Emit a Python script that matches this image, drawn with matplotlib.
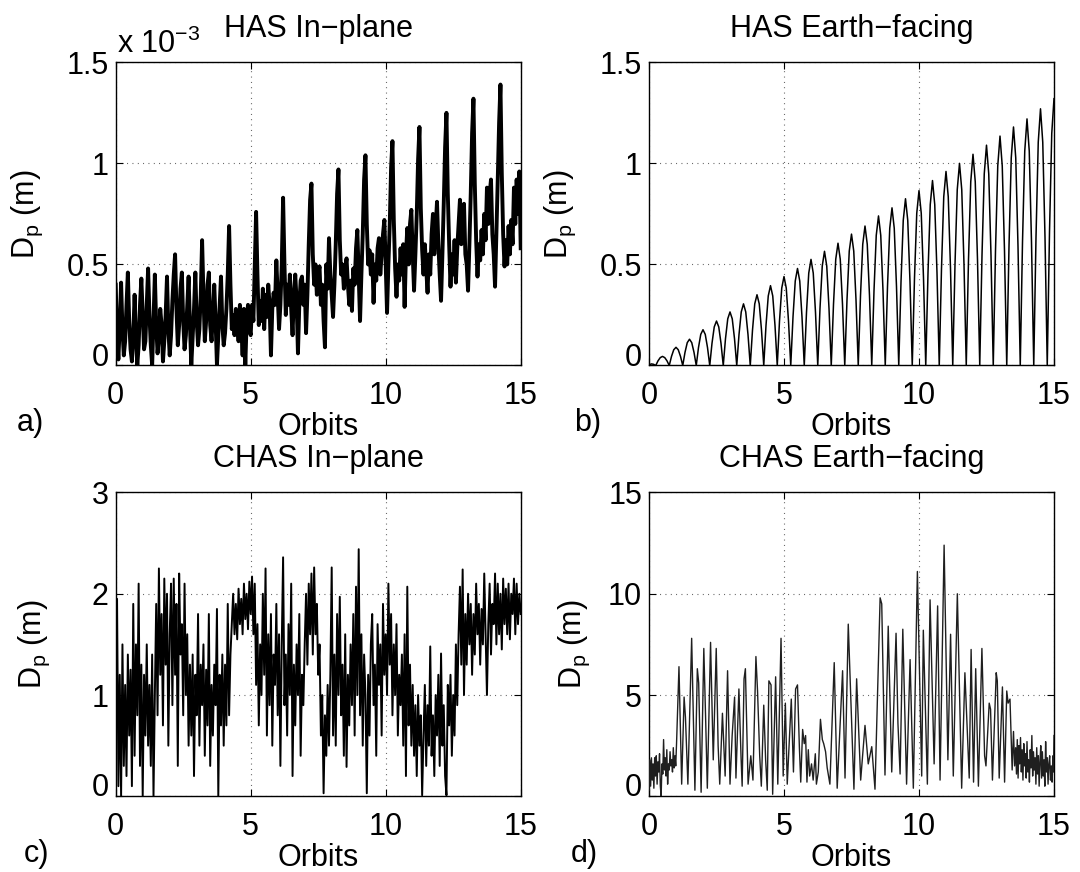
import numpy as np
import matplotlib
matplotlib.use("Agg")
import matplotlib.pyplot as plt

plt.rcParams['font.family'] = ['Liberation Sans', 'DejaVu Sans']
plt.rcParams['mathtext.default'] = 'regular'

# ---------------------------------------------------------------- data
ORBIT_STEP = 0.05            # sampling of the in-plane series (orbits)
EARTH_STEP = 1.0 / 12.0      # sampling of the HAS Earth-facing series

# HAS in-plane pointing error, units of 1e-3 m
has_inplane = [
    0.40, 0.15, 0.03, 0.20, 0.41, 0.18, 0.05, 0.12, 0.30, 0.46, 0.22, 0.08, 0.02, 0.15, 0.35, 0.14, 0.00, 0.10, 0.30, 0.43,
    0.25, 0.08, 0.12, 0.30, 0.48, 0.25, 0.10, 0.00, 0.22, 0.45, 0.20, 0.06, 0.14, 0.28, 0.20, 0.02, 0.12, 0.25, 0.44, 0.18,
    0.05, 0.15, 0.32, 0.45, 0.55, 0.28, 0.10, 0.20, 0.38, 0.46, 0.22, 0.08, 0.15, 0.30, 0.44, 0.20, 0.00, 0.14, 0.28, 0.46,
    0.22, 0.10, 0.18, 0.35, 0.62, 0.35, 0.12, 0.22, 0.40, 0.46, 0.20, 0.12, 0.25, 0.40, 0.22, 0.00, 0.15, 0.30, 0.44, 0.20,
    0.10, 0.16, 0.28, 0.45, 0.69, 0.40, 0.18, 0.25, 0.15, 0.28, 0.22, 0.12, 0.30, 0.20, 0.05, 0.28, 0.00, 0.22, 0.30, 0.18,
    0.15, 0.30, 0.22, 0.48, 0.76, 0.45, 0.20, 0.32, 0.22, 0.38, 0.18, 0.35, 0.24, 0.40, 0.30, 0.05, 0.28, 0.36, 0.30, 0.52,
    0.35, 0.18, 0.30, 0.50, 0.83, 0.50, 0.25, 0.40, 0.30, 0.45, 0.28, 0.15, 0.35, 0.45, 0.32, 0.06, 0.30, 0.42, 0.44, 0.30,
    0.40, 0.16, 0.35, 0.60, 0.82, 0.90, 0.55, 0.40, 0.50, 0.35, 0.45, 0.49, 0.30, 0.40, 0.22, 0.09, 0.50, 0.38, 0.63, 0.45,
    0.35, 0.24, 0.40, 0.60, 0.85, 0.97, 0.62, 0.45, 0.50, 0.38, 0.48, 0.53, 0.40, 0.30, 0.42, 0.27, 0.48, 0.40, 0.58, 0.67,
    0.45, 0.22, 0.45, 0.65, 0.92, 1.04, 0.70, 0.50, 0.57, 0.45, 0.55, 0.31, 0.50, 0.42, 0.58, 0.63, 0.45, 0.55, 0.65, 0.72,
    0.50, 0.26, 0.50, 0.70, 0.98, 1.11, 0.72, 0.48, 0.34, 0.50, 0.42, 0.58, 0.45, 0.60, 0.29, 0.55, 0.68, 0.50, 0.70, 0.77,
    0.55, 0.37, 0.55, 0.75, 1.02, 1.18, 0.78, 0.57, 0.45, 0.60, 0.48, 0.36, 0.55, 0.45, 0.65, 0.75, 0.55, 0.68, 0.81, 0.60,
    0.45, 0.32, 0.55, 0.80, 1.08, 1.25, 0.85, 0.60, 0.39, 0.55, 0.45, 0.62, 0.41, 0.58, 0.70, 0.82, 0.60, 0.72, 0.80, 0.55,
    0.50, 0.37, 0.60, 0.85, 1.15, 1.32, 0.90, 0.62, 0.44, 0.60, 0.52, 0.67, 0.55, 0.75, 0.62, 0.88, 0.70, 0.85, 0.92, 0.65,
    0.55, 0.39, 0.65, 0.92, 1.20, 1.39, 0.95, 0.65, 0.49, 0.62, 0.50, 0.69, 0.55, 0.72, 0.60, 0.88, 0.70, 0.92, 0.75, 0.96,
    0.58,
]

# HAS Earth-facing pointing error (m), one arch every half orbit
has_earth = [
    0.000, 0.008, 0.006,
    0.000, 0.023, 0.039, 0.045, 0.039, 0.023,
    0.000, 0.045, 0.078, 0.090, 0.078, 0.045,
    0.000, 0.065, 0.113, 0.130, 0.113, 0.065,
    0.000, 0.089, 0.154, 0.177, 0.154, 0.089,
    0.000, 0.110, 0.191, 0.220, 0.191, 0.110,
    0.000, 0.133, 0.231, 0.265, 0.231, 0.133,
    0.000, 0.153, 0.265, 0.305, 0.265, 0.153,
    0.000, 0.175, 0.305, 0.350, 0.305, 0.175,
    0.000, 0.198, 0.344, 0.395, 0.344, 0.198,
    0.000, 0.220, 0.383, 0.440, 0.383, 0.220,
    0.000, 0.240, 0.418, 0.480, 0.418, 0.240,
    0.000, 0.263, 0.457, 0.525, 0.457, 0.263,
    0.000, 0.283, 0.492, 0.565, 0.492, 0.283,
    0.000, 0.303, 0.526, 0.605, 0.526, 0.303,
    0.000, 0.325, 0.566, 0.650, 0.566, 0.325,
    0.000, 0.345, 0.600, 0.690, 0.600, 0.345,
    0.000, 0.370, 0.644, 0.740, 0.644, 0.370,
    0.000, 0.390, 0.679, 0.780, 0.679, 0.390,
    0.000, 0.413, 0.718, 0.825, 0.718, 0.413,
    0.000, 0.433, 0.753, 0.865, 0.753, 0.433,
    0.000, 0.458, 0.796, 0.915, 0.796, 0.458,
    0.000, 0.480, 0.835, 0.960, 0.835, 0.480,
    0.000, 0.500, 0.870, 1.000, 0.870, 0.500,
    0.000, 0.523, 0.909, 1.045, 0.909, 0.523,
    0.000, 0.545, 0.948, 1.090, 0.948, 0.545,
    0.000, 0.568, 0.987, 1.135, 0.987, 0.568,
    0.000, 0.590, 1.027, 1.180, 1.027, 0.590,
    0.000, 0.610, 1.061, 1.220, 1.061, 0.610,
    0.000, 0.635, 1.105, 1.270, 1.105, 0.635,
    0.000, 0.660, 1.148, 1.320,
]

# CHAS in-plane pointing error (m)
chas_inplane = [
    0.50, 1.95, 0.10, 1.20, 0.00, 1.50, 0.30, 1.10, 0.20, 1.40, 0.60, 1.25, 0.10, 1.90, 0.40, 1.50, 0.80, 2.10, 0.30, 1.30,
    0.00, 1.20, 0.60, 1.50, 0.50, 1.10, 0.30, 1.40, 0.00, 1.00, 1.90, 0.80, 2.25, 1.20, 1.80, 0.70, 2.15, 1.30, 2.00, 0.50,
    1.60, 2.10, 0.90, 2.15, 1.20, 1.90, 0.30, 2.20, 1.40, 1.70, 0.80, 2.10, 1.00, 1.60, 0.50, 1.30, 0.60, 1.40, 0.20, 1.20,
    0.80, 1.80, 0.50, 1.30, 0.90, 1.50, 0.40, 1.25, 0.70, 1.80, 0.30, 1.10, 0.60, 1.30, 0.90, 1.85, 0.00, 1.20, 0.70, 1.40,
    0.50, 1.30, 0.70, 1.90, 0.80, 1.40, 1.70, 2.00, 1.60, 1.90, 1.55, 2.05, 1.70, 1.95, 1.60, 2.10, 1.75, 2.00, 1.65, 2.12,
    1.80, 2.17, 1.60, 2.10, 1.10, 1.70, 0.70, 1.50, 1.00, 2.00, 1.20, 2.25, 0.60, 1.60, 0.90, 1.80, 0.50, 1.40, 1.10, 1.90,
    0.80, 1.60, 0.30, 1.50, 2.36, 0.90, 1.40, 0.60, 1.70, 1.00, 2.10, 0.20, 1.30, 0.70, 1.50, 1.00, 1.80, 0.40, 1.20, 0.90,
    1.50, 2.00, 1.30, 2.10, 1.60, 2.20, 1.40, 2.26, 1.60, 1.90, 1.20, 1.50, 0.60, 1.00, 0.03, 0.80, 0.40, 1.10, 0.50, 1.20,
    2.26, 0.60, 1.40, 0.50, 1.80, 1.00, 1.97, 0.80, 1.30, 0.40, 1.60, 0.29, 1.20, 0.70, 1.50, 0.90, 1.80, 0.60, 2.07, 1.00,
    2.44, 0.80, 1.60, 0.50, 1.40, 1.00, 0.03, 1.20, 0.60, 1.50, 1.80, 0.90, 1.30, 0.40, 1.70, 1.10, 1.50, 0.60, 1.90, 1.20,
    1.60, 1.00, 2.10, 1.30, 1.80, 0.80, 1.50, 1.00, 1.70, 0.60, 1.20, 0.90, 1.40, 0.50, 1.60, 0.20, 2.07, 0.70, 1.30, 0.50,
    1.10, 0.40, 0.90, 0.20, 1.00, 0.50, 0.80, 0.01, 0.60, 1.10, 0.30, 0.90, 0.50, 1.48, 0.40, 0.80, 0.20, 1.00, 0.60, 1.20,
    0.30, 1.41, 0.50, 0.90, 0.20, 0.01, 1.10, 0.70, 1.20, 0.40, 1.00, 0.60, 1.50, 0.90, 1.60, 2.07, 1.30, 2.24, 1.00, 1.80,
    1.30, 2.00, 1.50, 1.90, 1.20, 1.80, 1.40, 2.10, 1.60, 1.90, 1.30, 1.85, 1.50, 2.20, 1.60, 1.00, 1.70, 2.10, 1.40, 1.90,
    1.70, 2.20, 1.50, 2.10, 1.60, 2.00, 1.45, 2.15, 1.70, 2.05, 1.60, 2.10, 1.55, 2.00, 1.80, 2.15, 1.60, 2.10, 1.70, 2.00,
    1.80,
]

# CHAS Earth-facing pointing error (m): orbit positions and values
chas_earth_orbit = [
    0.00, 0.03, 0.06, 0.09, 0.12, 0.15, 0.18, 0.21, 0.24, 0.27, 0.30, 0.33, 0.36, 0.39, 0.42, 0.45, 0.48, 0.51,
    0.54, 0.57, 0.60, 0.63, 0.66, 0.69, 0.72, 0.75, 0.78, 0.81, 0.84, 0.87, 0.90, 0.93, 0.96, 0.99,
    1.02, 1.11, 1.21, 1.30, 1.35, 1.44, 1.58, 1.70, 1.79, 1.84, 1.93, 2.03, 2.10, 2.16, 2.28, 2.38,
    2.49, 2.56, 2.62, 2.72, 2.78, 2.82, 2.91, 3.00, 3.08, 3.17, 3.22, 3.33, 3.41, 3.45, 3.52, 3.57,
    3.67, 3.77, 3.85, 3.96, 4.02, 4.10, 4.16, 4.25, 4.32, 4.38, 4.44, 4.52, 4.58, 4.69, 4.77, 4.89,
    4.97, 5.05, 5.12, 5.27, 5.35, 5.43, 5.50, 5.57, 5.62, 5.69, 5.75, 5.80, 5.85, 5.90, 5.95, 6.02,
    6.08, 6.16, 6.20, 6.27, 6.35, 6.42, 6.47, 6.54, 6.60, 6.70, 6.86, 6.97, 7.17, 7.26, 7.38, 7.59,
    7.69, 7.84, 8.00, 8.12, 8.25, 8.37, 8.56, 8.62, 8.74, 8.86, 8.99, 9.15, 9.22, 9.30, 9.40, 9.54,
    9.67, 9.79, 9.94, 10.10, 10.16, 10.31, 10.41, 10.56, 10.69, 10.78, 10.93, 11.07, 11.17, 11.27,
    11.42, 11.58, 11.70, 11.86, 11.93, 12.02, 12.10, 12.20, 12.33, 12.43, 12.48, 12.60, 12.65, 12.72,
    12.86, 12.90, 12.97, 13.09, 13.17, 13.25, 13.30, 13.37, 13.45, 13.50, 13.54,
    13.58, 13.61, 13.64, 13.67, 13.70, 13.73, 13.76, 13.79, 13.82, 13.85, 13.88, 13.91, 13.94, 13.97,
    14.00, 14.03, 14.06, 14.09, 14.12, 14.15, 14.18, 14.21, 14.24, 14.27, 14.30, 14.33, 14.36, 14.39,
    14.42, 14.45, 14.48, 14.51, 14.54, 14.57, 14.60, 14.63, 14.66, 14.69, 14.72, 14.75, 14.78, 14.81,
    14.84, 14.87, 14.90, 14.93, 14.96, 14.98, 15.00,
]
chas_earth = [
    0.3, 1.8, 0.5, 1.9, 0.8, 1.6, 0.4, 1.9, 1.0, 2.0, 0.6, 1.7, 1.2, 2.1, 0.5, 0.0, 1.6, 1.1,
    2.8, 1.3, 1.9, 1.0, 2.3, 0.6, 1.6, 1.3, 2.2, 1.5, 1.8, 1.2, 2.4, 1.4, 2.0, 1.5,
    2.6, 6.4, 0.6, 4.9, 3.9, 0.6, 7.8, 0.3, 6.3, 5.6, 0.2, 7.3, 3.7, 0.4, 7.6, 1.8,
    7.3, 2.5, 0.6, 4.1, 2.3, 1.0, 6.2, 0.6, 3.0, 4.9, 0.9, 5.3, 1.9, 0.5, 5.8, 6.3,
    0.6, 2.0, 0.8, 6.9, 5.2, 2.0, 0.5, 4.5, 1.8, 0.3, 5.7, 5.5, 0.1, 5.9, 0.6, 7.8,
    1.0, 4.6, 0.6, 4.8, 1.2, 5.3, 5.5, 2.4, 0.7, 3.3, 2.6, 3.0, 0.7, 2.3, 1.0, 1.6,
    0.8, 2.1, 0.6, 1.2, 3.8, 2.8, 2.6, 2.2, 1.4, 0.6, 6.6, 0.4, 6.2, 0.9, 8.5, 0.35,
    5.8, 0.8, 3.5, 1.6, 2.45, 0.35, 9.8, 9.5, 1.05, 8.4, 1.2, 8.05, 3.6, 1.1, 8.25, 0.6,
    6.75, 0.4, 11.1, 1.0, 8.2, 0.6, 9.7, 1.6, 9.4, 0.8, 12.4, 1.8, 8.0, 1.0,
    10.0, 0.4, 6.1, 0.9, 7.25, 0.7, 6.3, 0.5, 7.3, 2.0, 1.5, 4.6, 4.3, 0.8,
    6.1, 5.7, 0.9, 5.4, 0.7, 5.2, 4.6, 4.8, 1.3, 3.2, 1.5,
    2.4, 1.1, 2.8, 0.9, 2.5, 1.6, 2.9, 1.2, 2.3, 0.8, 2.6, 1.5, 2.1, 0.9,
    2.7, 1.2, 1.8, 0.7, 2.3, 1.4, 3.0, 1.0, 2.2, 1.3, 1.9, 0.6, 2.4, 1.1,
    2.0, 0.5, 1.7, 2.5, 0.9, 2.2, 1.0, 1.8, 0.5, 2.7, 1.2, 1.9, 0.6, 1.6,
    2.0, 0.8, 1.5, 0.7, 2.0, 1.2, 3.0,
]

titles = ["HAS In\u2212plane", "HAS Earth\u2212facing", "CHAS In\u2212plane", "CHAS Earth\u2212facing"]
panel_letters = ["a)", "b)", "c)", "d)"]
x_ticks = [0, 5, 10, 15]
y_ticks = [[0, 0.5, 1, 1.5], [0, 0.5, 1, 1.5], [0, 1, 2, 3], [0, 5, 10, 15]]
y_tick_labels = [["0", "0.5", "1", "1.5"], ["0", "0.5", "1", "1.5"],
                 ["0", "1", "2", "3"], ["0", "5", "10", "15"]]

# ---------------------------------------------------------------- figure
FS = 22
FIG_W, FIG_H = 1080, 872
fig = plt.figure(figsize=(FIG_W / 100, FIG_H / 100), dpi=100)

W = 405 / FIG_W
positions = [
    [115.7 / FIG_W, 1 - 365.5 / FIG_H, W, 303.2 / FIG_H],
    [649.0 / FIG_W, 1 - 365.5 / FIG_H, W, 303.2 / FIG_H],
    [115.7 / FIG_W, 1 - 796.3 / FIG_H, W, 303.8 / FIG_H],
    [649.0 / FIG_W, 1 - 796.3 / FIG_H, W, 303.8 / FIG_H],
]
axes = [fig.add_axes(p) for p in positions]

series = [
    (np.arange(len(has_inplane)) * ORBIT_STEP, has_inplane, 2.8, 'black'),
    (np.arange(len(has_earth)) * EARTH_STEP, has_earth, 1.1, 'black'),
    (np.arange(len(chas_inplane)) * ORBIT_STEP, chas_inplane, 1.4, 'black'),
    (np.asarray(chas_earth_orbit), chas_earth, 1.0, '0.12'),
]

# horizontal position of the y label (right edge, axes fraction)
ylabel_x = [-0.175, -0.175, -0.157, -0.141]
letter_x = [17, 574, 24, 571]

for i, ax in enumerate(axes):
    x, y, lw, col = series[i]
    ax.plot(x, y, color=col, lw=lw, zorder=3)
    ax.set_xlim(0, 15)
    ax.set_ylim(y_ticks[i][0], y_ticks[i][-1])
    ax.set_xticks(x_ticks)
    ax.set_xticklabels([str(t) for t in x_ticks])
    ax.set_yticks(y_ticks[i])
    ax.set_yticklabels(y_tick_labels[i])
    ax.tick_params(direction='in', length=5, width=0.8, labelsize=FS,
                   top=True, right=True, color='black')
    ax.tick_params(axis='x', pad=11)
    ax.tick_params(axis='y', pad=5)
    for lab in ax.get_yticklabels():
        if lab.get_text() == "0":
            lab.set_verticalalignment('baseline')
    ax.grid(True, color='0.3', linestyle=(0, (0.8, 4.0)), linewidth=0.8, zorder=1)
    for s in ax.spines.values():
        s.set_linewidth(1.0)
        s.set_color('black')
    ax.set_title(titles[i], fontsize=FS, pad=18)
    ax.set_xlabel("Orbits", fontsize=FS, labelpad=1)
    ax.set_ylabel("D$_p$ (m)", fontsize=FS)
    ax.yaxis.set_label_coords(ylabel_x[i], 0.5)

axes[0].text(0.003, 1.031, "x 10$^{\u22123}$", transform=axes[0].transAxes,
             ha='left', va='baseline', fontsize=FS)

# panel letters sit just above the baseline of their axis label
fig.canvas.draw()
renderer = fig.canvas.get_renderer()
for ax, lx, lab in zip(axes, letter_x, panel_letters):
    bb = ax.xaxis.label.get_window_extent(renderer)
    fig.text(lx / FIG_W, (bb.y0 + 4) / FIG_H, lab, fontsize=FS, ha='left', va='bottom')

fig.savefig("out.png", dpi=100)
